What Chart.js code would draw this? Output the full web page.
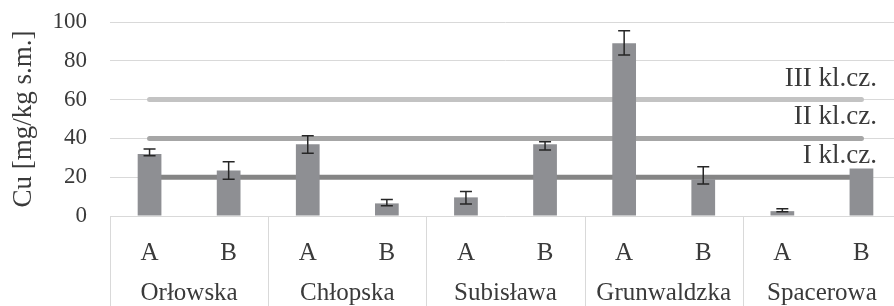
<!DOCTYPE html>
<html>
<head>
<meta charset="utf-8">
<script src="https://cdn.jsdelivr.net/npm/chart.js@4/dist/chart.umd.min.js"></script>
<style>
  html, body { margin: 0; padding: 0; background: #fff; overflow: hidden; }
  #wrap { width: 894px; height: 306px; overflow: hidden; }
</style>
</head>
<body>
<div id="wrap"><canvas id="chart" width="902" height="306"></canvas></div>
<script>
// dane z wykresu
const sites = ['Orłowska', 'Chłopska', 'Subisława', 'Grunwaldzka', 'Spacerowa'];
const samples = ['A', 'B', 'A', 'B', 'A', 'B', 'A', 'B', 'A', 'B'];
const cuValues = [32, 23.5, 37, 6.5, 9.6, 37, 89, 19, 2.5, 24.5];
const errPlus  = [2.5, 4.5, 4.4, 2, 3, 1.3, 6.5, 6.4, 1.3, 0];
const errMinus = [1, 4.5, 4.6, 1.2, 3.4, 3, 6, 2.5, 0.3, 0];
const yTicks = [0, 20, 40, 60, 80, 100];

// klasy czystości
const classNames = ['I kl.cz.', 'II kl.cz.', 'III kl.cz.'];
const classLimits = [20, 40, 60];
const classColors = ['#858585', '#a6a6a6', '#c3c3c3'];

const serif = "'Liberation Serif', 'Times New Roman', serif";
const textColor = '#3a3a3a';

const lineSets = classLimits.map((v, i) => ({
    type: 'line',
    label: classNames[i],
    data: samples.map(() => v),
    borderColor: classColors[i],
    borderWidth: 5,
    borderCapStyle: 'round',
    pointRadius: 0,
    fill: false,
    order: 2
}));

const extras = {
    id: 'extras',
    afterDatasetsDraw(chart) {
        const ctx = chart.ctx;
        const x = chart.scales.x;
        const y = chart.scales.y;
        // słupki błędów
        ctx.save();
        ctx.strokeStyle = '#262626';
        ctx.lineWidth = 1.5;
        cuValues.forEach((v, i) => {
            if (!errPlus[i] && !errMinus[i]) return;
            const cx = x.getPixelForValue(i);
            const top = y.getPixelForValue(v + errPlus[i]);
            const bot = y.getPixelForValue(v - errMinus[i]);
            ctx.beginPath();
            ctx.moveTo(cx, top); ctx.lineTo(cx, bot);
            ctx.moveTo(cx - 6, top); ctx.lineTo(cx + 6, top);
            ctx.moveTo(cx - 6, bot); ctx.lineTo(cx + 6, bot);
            ctx.stroke();
        });
        // podpisy klas
        ctx.fillStyle = textColor;
        ctx.font = '27px ' + serif;
        ctx.textAlign = 'right';
        ctx.textBaseline = 'middle';
        classLimits.forEach((v, i) => {
            ctx.fillText(classNames[i], chart.chartArea.right - 24, y.getPixelForValue(v) - 21);
        });
        ctx.restore();
    },
    afterDraw(chart) {
        const ctx = chart.ctx;
        const x = chart.scales.x;
        const area = chart.chartArea;
        const step = x.getPixelForValue(1) - x.getPixelForValue(0);
        ctx.save();
        ctx.strokeStyle = '#d9d9d9';
        ctx.lineWidth = 1;
        for (let k = 0; k <= sites.length; k++) {
            const bx = Math.round(x.getPixelForValue(k * 2) - step / 2) + 0.5;
            ctx.beginPath();
            ctx.moveTo(bx, area.bottom);
            ctx.lineTo(bx, chart.height);
            ctx.stroke();
        }
        ctx.restore();
    }
};

new Chart(document.getElementById('chart'), {
    type: 'bar',
    data: {
        labels: samples,
        datasets: [{
            label: 'Cu',
            data: cuValues,
            backgroundColor: '#8e8f93',
            barPercentage: 0.3,
            categoryPercentage: 1,
            order: 1
        }, ...lineSets]
    },
    options: {
        responsive: false,
        animation: false,
        devicePixelRatio: 1,
        layout: { padding: { top: 22, right: 1, left: 0, bottom: 0 } },
        plugins: {
            legend: { display: false },
            tooltip: { enabled: false }
        },
        scales: {
            y: {
                min: yTicks[0],
                max: yTicks[yTicks.length - 1],
                afterFit(scale) {
                    scale.width = 110;
                    scale.paddingTop = 0;
                    scale.paddingBottom = 0;
                },
                afterBuildTicks(scale) { scale.ticks = yTicks.map(v => ({ value: v })); },
                ticks: {
                    padding: 23,
                    color: textColor,
                    font: { family: serif, size: 23 }
                },
                grid: { color: '#d9d9d9', drawTicks: false },
                border: { display: false },
                title: {
                    display: true,
                    text: 'Cu [mg/kg s.m.]',
                    color: textColor,
                    font: { family: serif, size: 27 },
                    padding: { top: 8, bottom: 0 }
                }
            },
            x: {
                afterFit(scale) { scale.height = 48; },
                grid: { display: false },
                border: { display: false },
                ticks: {
                    autoSkip: false,
                    maxRotation: 0,
                    padding: 14,
                    color: textColor,
                    font: { family: serif, size: 25 }
                }
            },
            x2: {
                type: 'category',
                labels: sites,
                position: 'bottom',
                offset: true,
                afterFit(scale) { scale.height = 42; },
                grid: { display: false },
                border: { display: false },
                ticks: {
                    autoSkip: false,
                    maxRotation: 0,
                    padding: 6,
                    color: textColor,
                    font: { family: serif, size: 25 }
                }
            }
        }
    },
    plugins: [extras]
});
</script>
</body>
</html>
